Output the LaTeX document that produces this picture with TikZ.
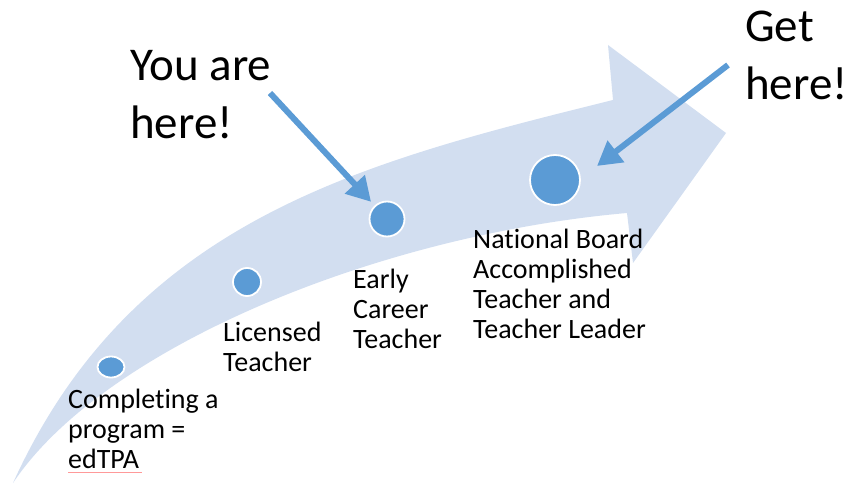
\documentclass[tikz,border=0pt]{standalone}
\usepackage{fontspec}
\setmainfont{Carlito}[Ligatures=NoCommon]
\usetikzlibrary{calc, arrows.meta, shapes.geometric}

\definecolor{bandblue}{RGB}{210,222,240}
\definecolor{dotblue}{RGB}{91,155,213}

\begin{document}
\begin{tikzpicture}[x=1pt, y=-1pt]
    \tikzstyle{band} = [fill=bandblue, draw=none]
    \tikzstyle{milestone} = [circle, draw=white, line width=1.8pt, fill=dotblue, inner sep=0pt]
    \tikzstyle{stagetext} = [anchor=base west, align=left, inner sep=0pt, font=\fontsize{28}{30}\selectfont]
    \tikzstyle{bigtext} = [anchor=base west, align=left, inner sep=0pt, font=\fontsize{47}{58}\selectfont]
    \tikzstyle{pointer} = [draw=dotblue, line width=6pt, -{Triangle[length=24pt, width=26pt]}]

    \useasboundingbox (0,0) rectangle (848,486);

    % big curved arrow
    \path [band] (13,483) .. controls (133,219) and (363,162) .. (613,100)
        -- (608,45) -- (726,133) -- (633,263) -- (627,213)
        .. controls (377,235) and (103,348) .. cycle;

    \node [milestone, ellipse, minimum width=27pt, minimum height=21pt] (program) at (111,367) {};
    \node [milestone, minimum size=28pt] (licensed) at (247,282) {};
    \node [milestone, minimum size=35pt] (early) at (387,219) {};
    \node [milestone, minimum size=50pt] (board) at (555,180) {};

    % base = last line
    \node [stagetext] (programtext) at (68,468) {Completing a\\program =\\edTPA};
    \node [stagetext] (licensedtext) at (223,371) {Licensed\\Teacher};
    \node [stagetext] (earlytext) at (353,348) {Early\\Career\\Teacher};
    \node [stagetext] (boardtext) at (473,338) {National Board\\Accomplished\\Teacher and\\Teacher Leader};

    \node [bigtext] (youtext) at (130,139) {You are\\here!};
    \node [bigtext] (gettext) at (745,100) {Get\\here!};

    \coordinate (youtail) at (270,93);
    \coordinate (gettail) at (728,65);
    \coordinate (gettip) at ($(board)+(42,-14)$);

    \path [pointer, shorten >=5pt] (youtail) -- (early);
    \path [pointer] (gettail) -- (gettip);

    % spelling mark under edTPA
    \draw [red!40, line width=0.8pt] ($(programtext.base west)+(0,4)$) -- ++(74,0);
\end{tikzpicture}
\end{document}
